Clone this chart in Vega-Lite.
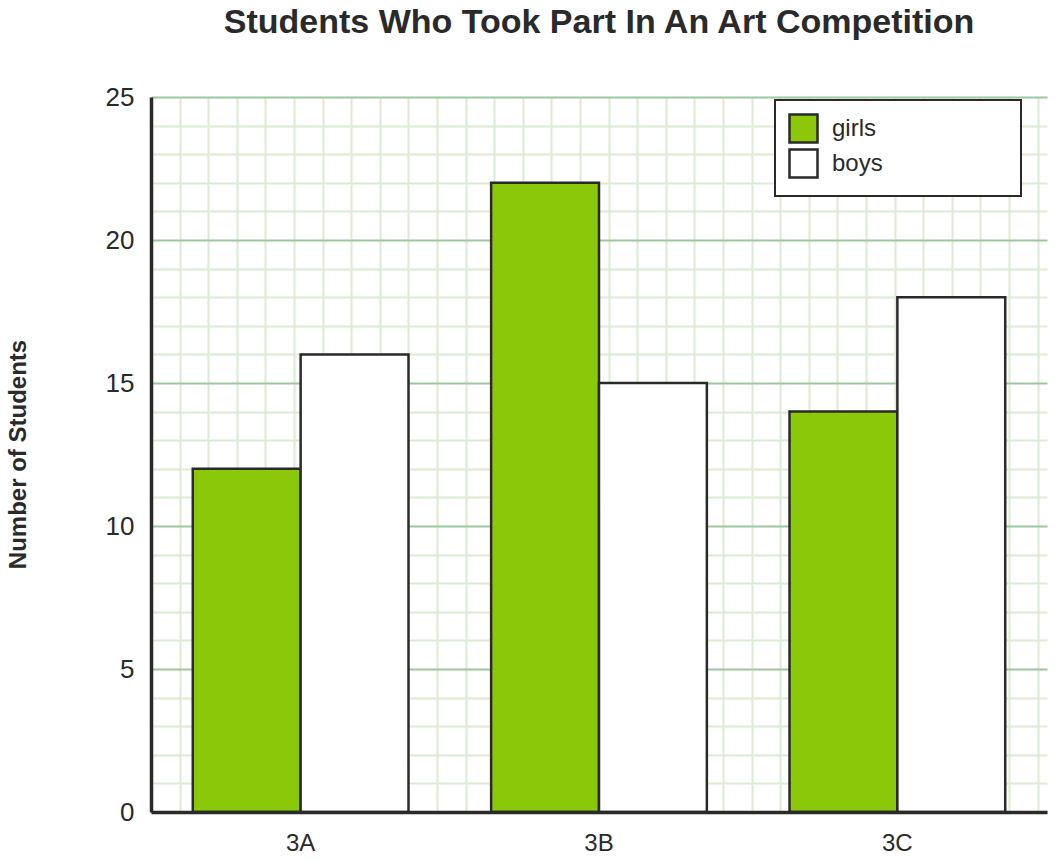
{
  "$schema": "https://vega.github.io/schema/vega-lite/v6.json",
  "width": 896,
  "height": 715,
  "autosize": {"type": "none"},
  "padding": {"left": 151, "top": 97, "right": 8, "bottom": 49},
  "background": "white",
  "title": {
    "text": "Students Who Took Part In An Art Competition",
    "font": "Arial",
    "fontSize": 34,
    "fontWeight": "bold",
    "color": "#2a2a2a",
    "anchor": "middle",
    "offset": 44
  },
  "config": {
    "view": {"stroke": null},
    "font": "Arial",
    "legend": {"strokeWidth": 2}
  },
  "datasets": {
    "grid": [{"g": 0}],
    "students": [
      {"class": "3A", "gender": "girls", "count": 12},
      {"class": "3A", "gender": "boys", "count": 16},
      {"class": "3B", "gender": "girls", "count": 22},
      {"class": "3B", "gender": "boys", "count": 15},
      {"class": "3C", "gender": "girls", "count": 14},
      {"class": "3C", "gender": "boys", "count": 18}
    ]
  },
  "layer": [
    {
      "data": {"name": "grid"},
      "mark": {"type": "point", "opacity": 0},
      "encoding": {
        "x": {
          "field": "g",
          "type": "quantitative",
          "scale": {"domain": [0, 31.33], "nice": false, "zero": false},
          "axis": {
            "orient": "top",
            "values": [1,2,3,4,5,6,7,8,9,10,11,12,13,14,15,16,17,18,19,20,21,22,23,24,25,26,27,28,29,30,31],
            "grid": true,
            "gridColor": "#dcebd2",
            "gridWidth": 2,
            "labels": false,
            "ticks": false,
            "domain": false,
            "title": null
          }
        }
      }
    },
    {
      "data": {"name": "students"},
      "mark": {"type": "bar", "stroke": "#2a2a2a", "strokeWidth": 2.5},
      "encoding": {
        "x": {
          "field": "class",
          "type": "nominal",
          "scale": {"paddingInner": 0.277, "paddingOuter": 0.14},
          "axis": {
            "orient": "bottom",
            "title": null,
            "labelAngle": 0,
            "labelFontSize": 24,
            "labelColor": "#2a2a2a",
            "labelPadding": 19,
            "ticks": false,
            "domainColor": "#2a2a2a",
            "domainWidth": 3.5,
            "zindex": 1
          }
        },
        "xOffset": {"field": "gender", "sort": ["girls", "boys"]},
        "y": {
          "field": "count",
          "type": "quantitative",
          "scale": {"domain": [0, 25], "nice": false},
          "axis": {
            "values": [0,1,2,3,4,5,6,7,8,9,10,11,12,13,14,15,16,17,18,19,20,21,22,23,24,25],
            "labelExpr": "datum.value % 5 === 0 ? datum.label : ''",
            "grid": true,
            "gridWidth": 2,
            "gridColor": {"condition": {"test": "datum.value % 5 === 0", "value": "#a0c6a0"}, "value": "#dcebd2"},
            "ticks": false,
            "labelFontSize": 26,
            "labelColor": "#2a2a2a",
            "labelPadding": 17,
            "domainColor": "#2a2a2a",
            "domainWidth": 3.5,
            "title": "Number of Students",
            "titleFontSize": 24,
            "titleFontWeight": "bold",
            "titleColor": "#2a2a2a",
            "titleX": -121,
            "titleY": 357
          }
        },
        "color": {
          "field": "gender",
          "type": "nominal",
          "scale": {"domain": ["girls", "boys"], "range": ["#8bc80a", "#ffffff"]},
          "legend": {
            "orient": "none",
            "legendX": 624,
            "legendY": 3,
            "title": null,
            "padding": 13,
            "fillColor": "white",
            "strokeColor": "#2a2a2a",
            "symbolType": "square",
            "symbolSize": 784,
            "symbolStrokeColor": "#2a2a2a",
            "symbolStrokeWidth": 2.5,
            "symbolOpacity": 1,
            "labelFontSize": 24,
            "labelColor": "#2a2a2a",
            "labelOffset": 13,
            "labelLimit": 400,
            "rowPadding": -4,
            "labelExpr": "datum.label + '\u00a0\u00a0\u00a0\u00a0\u00a0\u00a0\u00a0\u00a0\u00a0\u00a0\u00a0\u00a0\u00a0\u00a0\u00a0\u00a0\u2800'"
          }
        }
      }
    }
  ],
  "resolve": {"scale": {"x": "independent"}, "axis": {"x": "independent"}}
}
